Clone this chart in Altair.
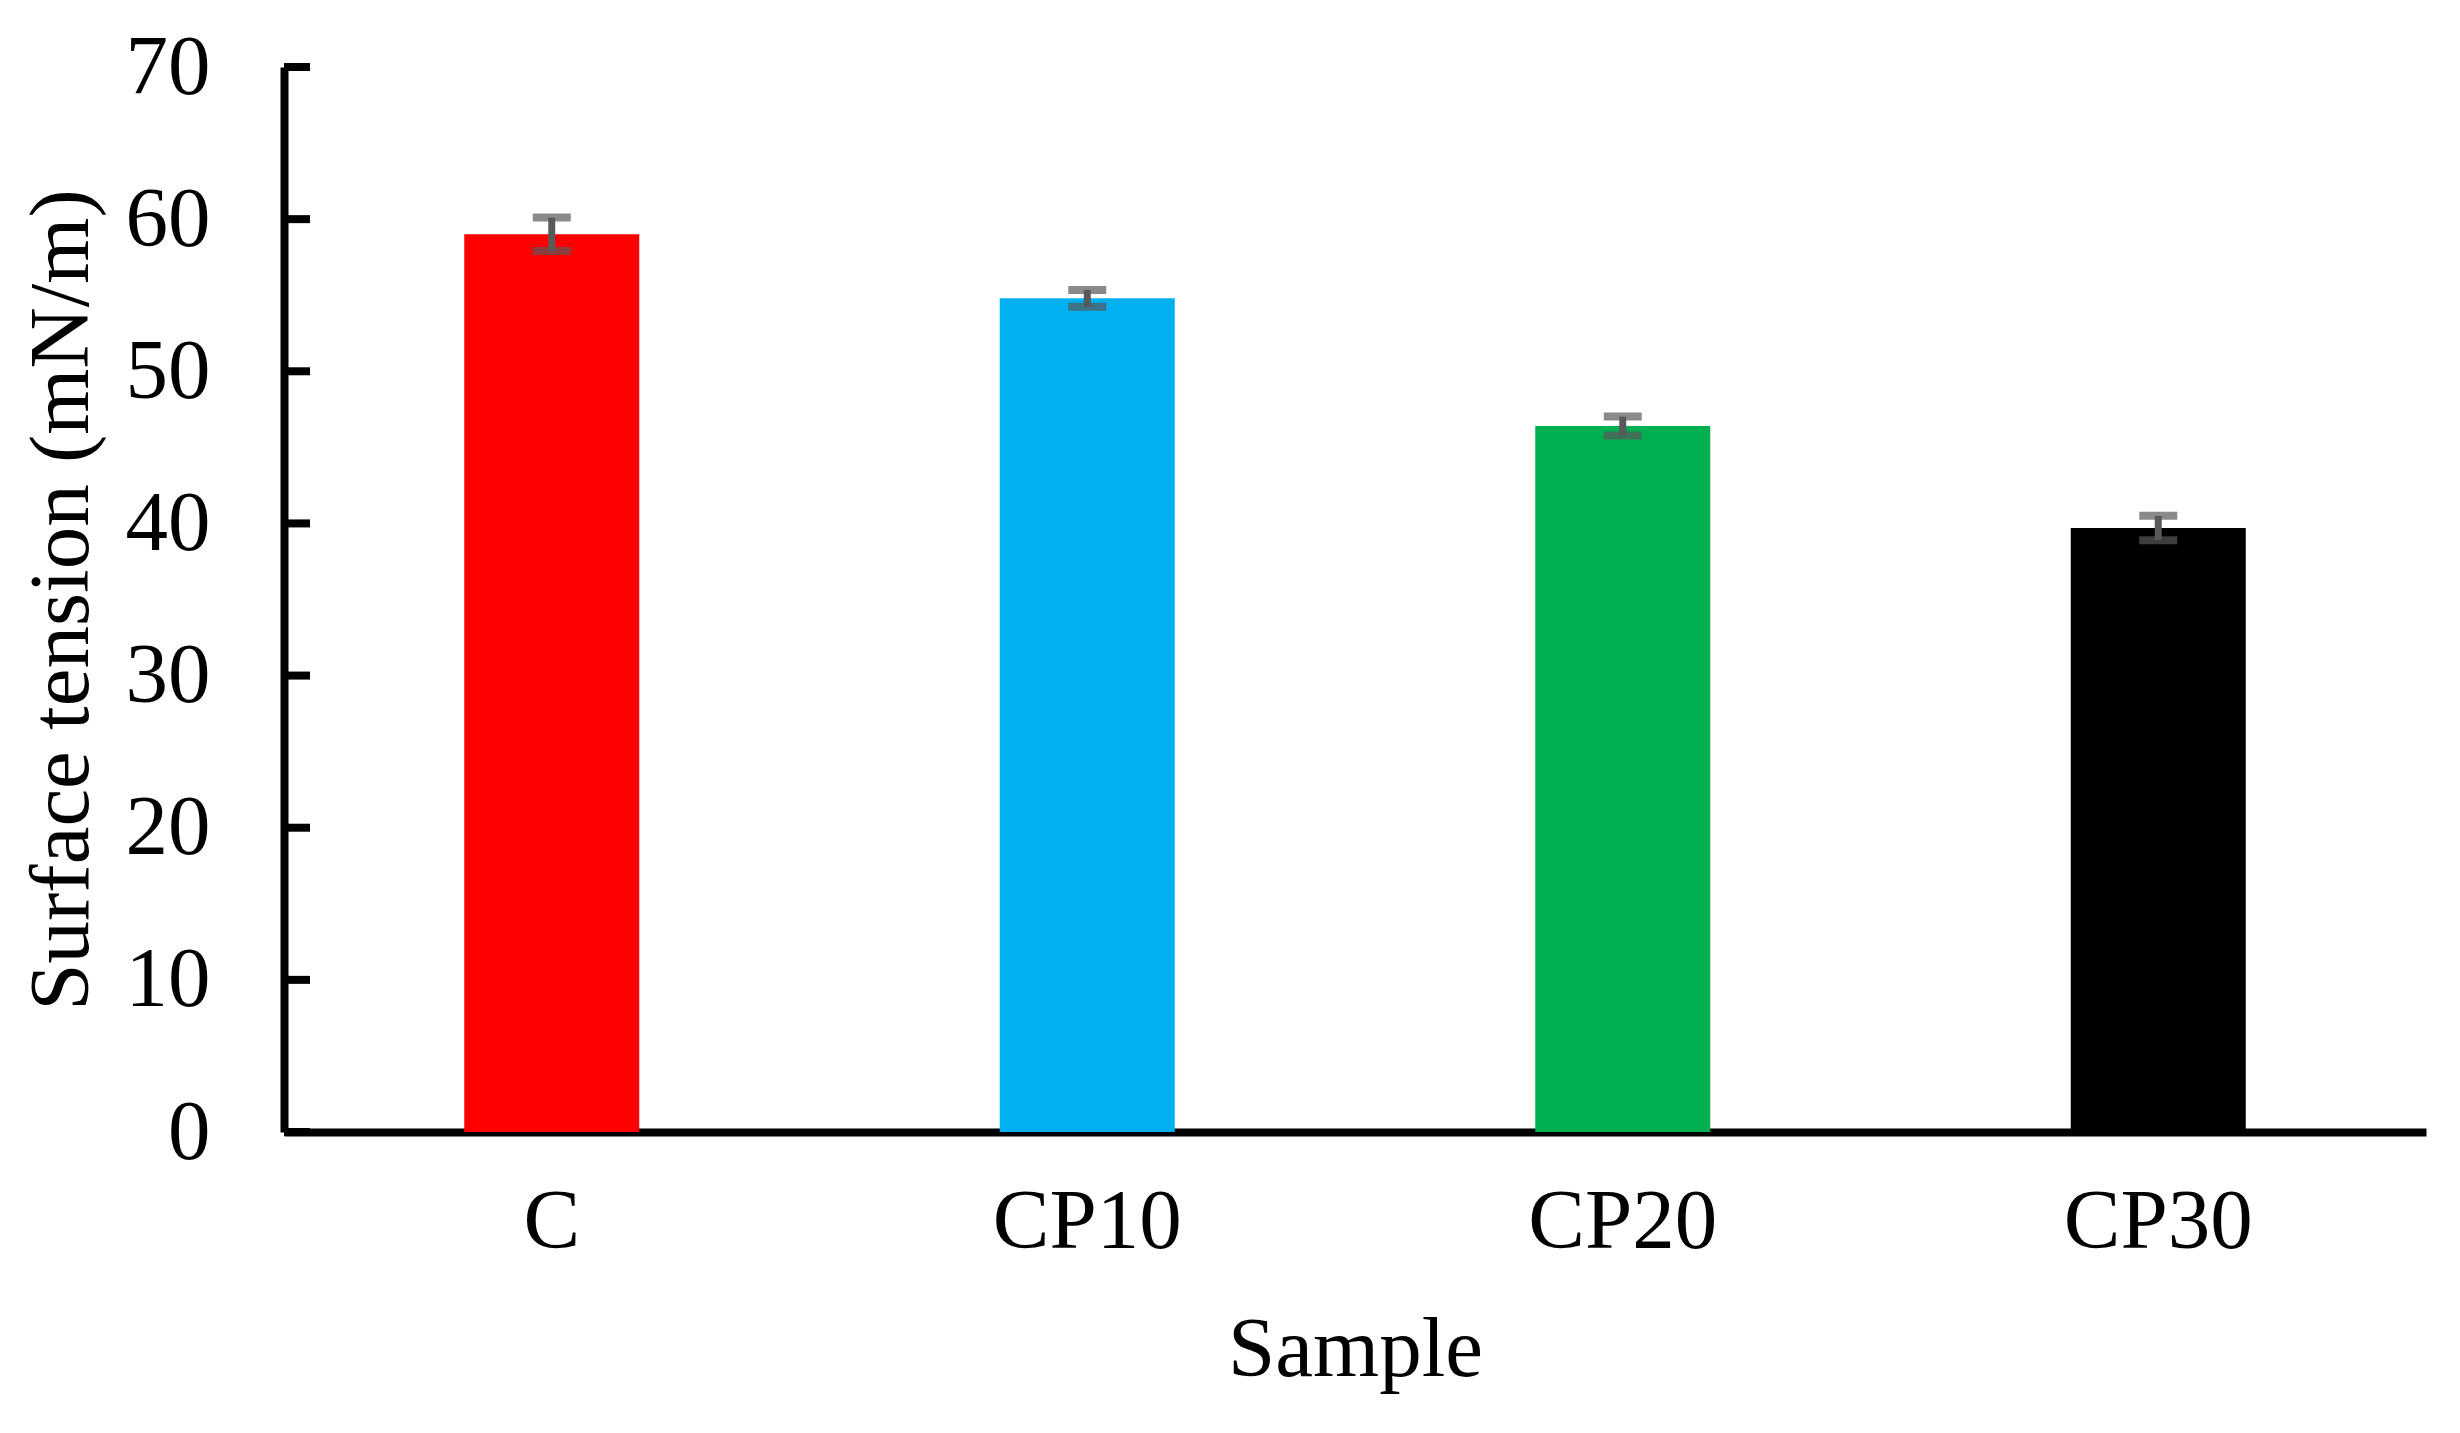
import altair as alt
import pandas as pd

samples = ["C", "CP10", "CP20", "CP30"]
values = [59.0, 54.8, 46.4, 39.7]
errors = [1.1, 0.55, 0.62, 0.8]
colors = ["#FF0000", "#00B0F0", "#00B050", "#000000"]
y_ticks = [0, 10, 20, 30, 40, 50, 60, 70]

df = pd.DataFrame({"Sample": samples, "value": values, "err": errors, "color": colors})
df["lo"] = df["value"] - df["err"]
df["hi"] = df["value"] + df["err"]
ticks_df = pd.DataFrame({"t": y_ticks})

FONT = "Liberation Serif"
FS = 85
W, H = 2142, 1065

x_enc = alt.X("Sample:N", sort=samples,
              scale=alt.Scale(paddingInner=0, paddingOuter=0),
              axis=alt.Axis(title="Sample", ticks=False, labelAngle=0, labelPadding=48,
                            labelLimit=1000,
                            labelFont=FONT, labelFontSize=FS, labelColor="black",
                            titleFont=FONT, titleFontSize=FS, titleFontWeight="normal",
                            titleColor="black", titlePadding=44,
                            domainColor="black", domainWidth=8))
y_scale = alt.Scale(domain=[0, 70], nice=False)

bars = alt.Chart(df).mark_bar(size=175).encode(
    x=x_enc,
    y=alt.Y("value:Q", scale=y_scale,
            axis=alt.Axis(title="Surface tension (mN/m)", values=y_ticks, ticks=False,
                          grid=False, labelPadding=74, labelLimit=1000,
                          labelFont=FONT, labelFontSize=FS, labelColor="black",
                          titleFont=FONT, titleFontSize=FS, titleFontWeight="normal",
                          titleColor="black", titlePadding=20,
                          domainColor="black", domainWidth=8)),
    color=alt.Color("color:N", scale=None),
)

stems = alt.Chart(df).mark_rule(color="#595959", strokeWidth=7).encode(
    x=alt.X("Sample:N", sort=samples),
    y=alt.Y("lo:Q", scale=y_scale),
    y2="hi:Q",
)
caps_lo = alt.Chart(df).mark_tick(color="#595959", thickness=8, size=38, orient="horizontal").encode(
    x=alt.X("Sample:N", sort=samples),
    y=alt.Y("lo:Q", scale=y_scale),
)
caps_hi = alt.Chart(df).mark_tick(color="#595959", thickness=8, size=38, orient="horizontal").encode(
    x=alt.X("Sample:N", sort=samples),
    y=alt.Y("hi:Q", scale=y_scale),
)
inticks = alt.Chart(ticks_df).mark_rule(color="black", strokeWidth=8).encode(
    x=alt.value(0), x2=alt.value(26),
    y=alt.Y("t:Q", scale=y_scale),
)

chart = alt.layer(bars, stems, caps_lo, caps_hi, inticks).properties(
    width=W, height=H,
    autosize=alt.AutoSizeParams(type="none"),
    padding={"left": 276, "top": 59, "right": 20, "bottom": 300},
    background="white",
).configure_view(stroke=None, strokeWidth=0)

chart.save("out.html", embed_options={"renderer": "svg", "actions": False})
